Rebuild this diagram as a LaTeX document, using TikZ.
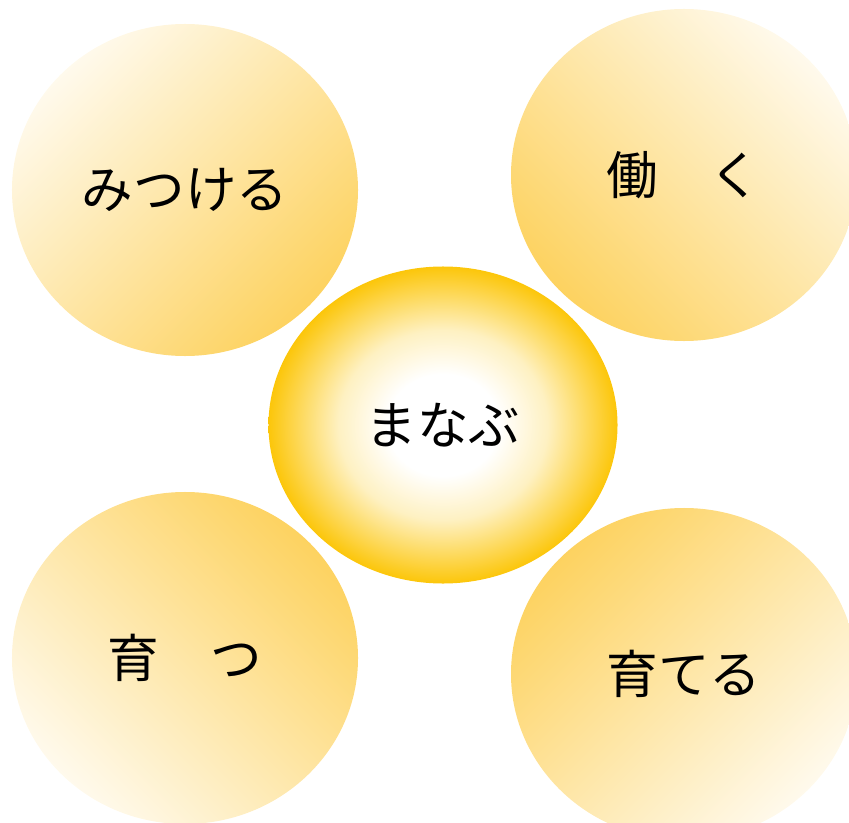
\documentclass[tikz,border=0pt]{standalone}
\usepackage{fontspec}
\newfontfamily\jpfont{Noto Sans CJK JP}
\usetikzlibrary{shapes.geometric}

\definecolor{petalgold}{RGB}{253,208,88}
\definecolor{coregold}{RGB}{252,198,10}
\pgfdeclareverticalshading{petalfade}{100bp}{color(0bp)=(petalgold); color(22bp)=(petalgold); color(80bp)=(petalgold!3!white); color(100bp)=(white)}
\pgfdeclareradialshading{coreglow}{\pgfpoint{0bp}{0bp}}{color(0bp)=(white); color(8bp)=(white); color(15bp)=(coregold!25!white); color(21bp)=(coregold!70!white); color(25bp)=(coregold); color(50bp)=(coregold)}

\begin{document}
\begin{tikzpicture}[x=0.03cm, y=-0.03cm,
    petal/.style={ellipse, shade, shading=petalfade, inner sep=0pt,
      minimum width=10.38cm, minimum height=9.96cm,
      font=\jpfont\fontsize{44}{52}\selectfont},
    core/.style={ellipse, shade, shading=coreglow, inner sep=0pt,
      minimum width=10.47cm, minimum height=9.51cm,
      font=\jpfont\fontsize{44}{52}\selectfont}]
  \useasboundingbox (0,0) rectangle (849,823);
  \node[petal, shading angle=45] (find) at (185,190) {みつける};
  \node[petal, shading angle=-45] (work) at (684,175) {働　く};
  \node[petal, shading angle=135] (grow) at (185,658) {育　つ};
  \node[petal, shading angle=-135] (raise) at (684,674) {育てる};
  \node[core] (learn) at (443,425) {まなぶ};
\end{tikzpicture}
\end{document}
